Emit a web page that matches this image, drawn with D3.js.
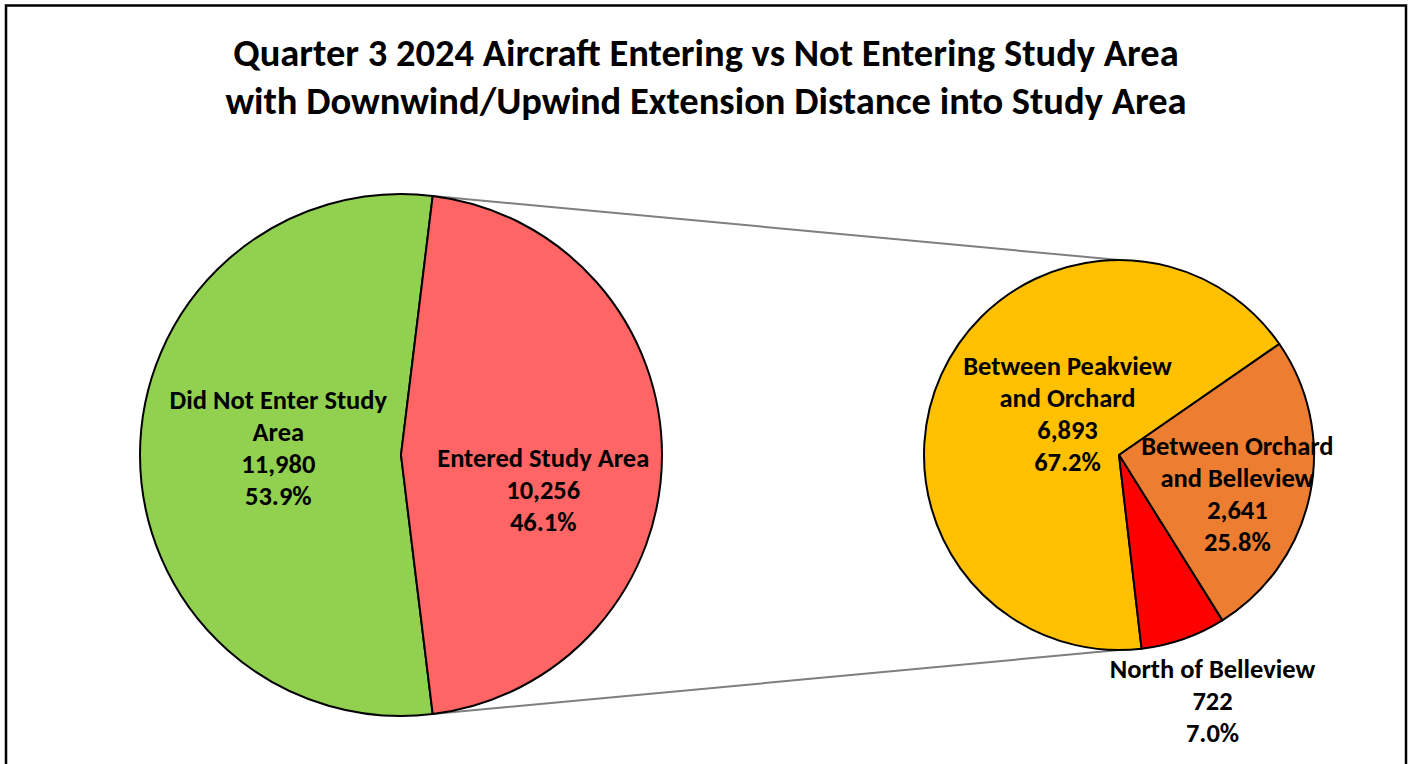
<!DOCTYPE html>
<html>
<head>
<meta charset="utf-8">
<script src="https://cdn.jsdelivr.net/npm/d3@7"></script>
<style>
body { margin: 0; background: #fff; }
text { font-family: Calibri, Carlito, Lato, sans-serif; font-weight: bold; fill: #000; }
</style>
</head>
<body>
<script>
var title_lines = ['Quarter 3 2024 Aircraft Entering vs Not Entering Study Area', 'with Downwind/Upwind Extension Distance into Study Area']

var main_labels = [['Did Not Enter Study', 'Area'], ['Entered Study Area']]
var main_values = [11980, 10256]
var main_colors = ['#92D050', '#FF6565']

var sub_labels = [['Between Peakview', 'and Orchard'], ['Between Orchard', 'and Belleview'], ['North of Belleview']]
var sub_values = [6893, 2641, 722]
var sub_colors = ['#FFC000', '#ED7D31', '#FF0000']

var width = 1416;
var height = 764;
var deg = Math.PI / 180;

var svg = d3.select("body").append("svg")
.attr("width", width)
.attr("height", height);

// chart frame
svg.append("rect")
.attr("x", 6)
.attr("y", 5.5)
.attr("width", 1400)
.attr("height", 800)
.attr("fill", "none")
.attr("stroke", "#000")
.attr("stroke-width", 2.5);

svg.selectAll(".title")
.data(title_lines)
.enter()
.append("text")
.attr("class", "title")
.attr("x", 706)
.attr("y", function(d, i){ return 52 + i * 48; })
.attr("text-anchor", "middle")
.attr("dominant-baseline", "central")
.style("font-size", "38.5px")
.text(function(d){ return d; });

var fmt_n = d3.format(",");
var fmt_p = d3.format(".1%");

// main pie, the "Entered" slice is centred on the right
var main_total = d3.sum(main_values);
var entered_span = main_values[1] / main_total * 360;
var main_start = (90 + entered_span / 2) * deg;
var main_pie = d3.pie().sort(null)
.startAngle(main_start)
.endAngle(main_start + 2 * Math.PI);
var main_arcs = main_pie(main_values);

var main_c = [401, 455], main_r = 261;
var sub_c = [1119, 455], sub_r = 195;

// secondary pie, breaks down the Entered slice
var sub_total = d3.sum(sub_values);
var sub_end = 55.3 * deg;
var sub_start = sub_end - sub_values[0] / sub_total * 2 * Math.PI;
var sub_pie = d3.pie().sort(null)
.startAngle(sub_start)
.endAngle(sub_start + 2 * Math.PI);
var sub_arcs = sub_pie(sub_values);

// connector lines
function pt(c, r, a){ return [c[0] + r * Math.sin(a), c[1] - r * Math.cos(a)]; }
var ent = main_arcs[1];
var conn = [
	[pt(main_c, main_r, ent.startAngle), pt(sub_c, sub_r, 0)],
	[pt(main_c, main_r, ent.endAngle), pt(sub_c, sub_r, Math.PI)]
];
svg.selectAll(".conn")
.data(conn)
.enter()
.append("line")
.attr("class", "conn")
.attr("x1", function(d){ return d[0][0]; })
.attr("y1", function(d){ return d[0][1]; })
.attr("x2", function(d){ return d[1][0]; })
.attr("y2", function(d){ return d[1][1]; })
.attr("stroke", "#7f7f7f")
.attr("stroke-width", 2);

function draw_pie(arcs, c, r, colors){
	var g = svg.append("g").attr("transform", "translate(" + c[0] + "," + c[1] + ")");
	var arc = d3.arc().innerRadius(0).outerRadius(r);
	g.selectAll("path")
	.data(arcs)
	.enter()
	.append("path")
	.attr("d", arc)
	.attr("fill", function(d, i){ return colors[i]; })
	.attr("stroke", "#000")
	.attr("stroke-width", 2)
	.attr("stroke-linejoin", "round");
	return g;
}

var g_main = draw_pie(main_arcs, main_c, main_r, main_colors);
var g_sub = draw_pie(sub_arcs, sub_c, sub_r, sub_colors);

// label placement: fraction of radius along mid-angle, plus a nudge
var main_lab = [{f: 0.47, dx: 0, dy: -7}, {f: 0.545, dx: 0, dy: 35}];
var sub_lab = [{f: 0.29, dx: 0, dy: -18}, {f: 0.62, dx: 0, dy: 15}, {f: 1.0, dx: 29, dy: 62}];

function draw_labels(g, arcs, labels, total, r, lab){
	arcs.forEach(function(d, i){
		var a = (d.startAngle + d.endAngle) / 2;
		var x = lab[i].f * r * Math.sin(a) + lab[i].dx;
		var y = -lab[i].f * r * Math.cos(a) + lab[i].dy;
		var lines = labels[i].concat([fmt_n(d.value), fmt_p(d.value / total)]);
		var lh = 32;
		var y0 = y - (lines.length - 1) * lh / 2;
		g.append("g")
		.selectAll("text")
		.data(lines)
		.enter()
		.append("text")
		.attr("x", x)
		.attr("y", function(t, j){ return y0 + j * lh; })
		.attr("text-anchor", "middle")
		.attr("dominant-baseline", "central")
		.style("font-size", "26.5px")
		.text(function(t){ return t; });
	});
}

draw_labels(g_main, main_arcs, main_labels, main_total, main_r, main_lab);
draw_labels(g_sub, sub_arcs, sub_labels, sub_total, sub_r, sub_lab);
</script>
</body>
</html>
